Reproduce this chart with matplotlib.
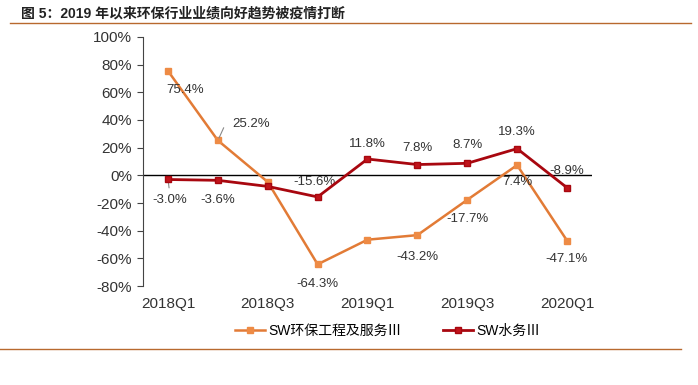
import matplotlib
matplotlib.use('Agg')
import matplotlib.pyplot as plt
from matplotlib.lines import Line2D

plt.rcParams['font.family'] = ['Liberation Sans', 'Noto Sans CJK SC', 'DejaVu Sans']

quarters = ['2018Q1', '2018Q2', '2018Q3', '2018Q4', '2019Q1', '2019Q2', '2019Q3', '2019Q4', '2020Q1']
env_service = [75.4, 25.2, -4.8, -64.3, -46.5, -43.2, -17.7, 7.4, -47.1]
water = [-3.0, -3.6, -8.0, -15.6, 11.8, 7.8, 8.7, 19.3, -8.9]
env_name = 'SW环保工程及服务Ⅲ'
water_name = 'SW水务Ⅲ'
title = '图 5：2019 年以来环保行业业绩向好趋势被疫情打断'

# which points get a label, and offsets (points) for each label
env_labels = {0: (12, -14), 1: (24, 12), 3: (0, -14), 5: (0, -16), 6: (0, -14), 7: (0, -12), 8: (0, -13)}
water_labels = {0: (1, -15), 1: (0, -14), 3: (-2, 11), 4: (0, 11), 5: (0, 12), 6: (0, 13), 7: (0, 12), 8: (0, 12)}

orange = '#E27B36'
orange_m = '#EE8B45'
red = '#A8070F'
red_m = '#C0141B'
txt = '#333333'

fig = plt.figure(figsize=(6.98, 3.85), dpi=100)
ax = fig.add_axes([0.205, 0.257, 0.643, 0.647])

x = list(range(len(quarters)))
ax.plot(x, env_service, color=orange, lw=1.8, marker='s', ms=5, mfc=orange_m, mec=orange_m, zorder=3)
ax.plot(x, water, color=red, lw=2.0, marker='s', ms=5, mfc=red_m, mec=red, zorder=4)
ax.axhline(0, color='black', lw=1.0, zorder=2)

for i, (dx, dy) in env_labels.items():
    v = env_service[i]
    ax.annotate('%.1f%%' % v, (i, v), xytext=(dx, dy), textcoords='offset points',
                ha='center', va='center', fontsize=9.5, color=txt)
for i, (dx, dy) in water_labels.items():
    v = water[i]
    ax.annotate('%.1f%%' % v, (i, v), xytext=(dx, dy), textcoords='offset points',
                ha='center', va='center', fontsize=9.5, color=txt)

# leader lines for 25.2% and -3.0%
ax.annotate('', (1, env_service[1]), xytext=(5, 11), textcoords='offset points',
            arrowprops=dict(arrowstyle='-', color='#888888', lw=0.8))
ax.annotate('', (0, water[0]), xytext=(1, -8), textcoords='offset points',
            arrowprops=dict(arrowstyle='-', color='#888888', lw=0.8))

ax.set_xlim(-0.5, 8.5)
ax.set_ylim(-80, 100)
ax.set_yticks(range(-80, 101, 20))
ax.set_yticklabels(['%d%%' % v for v in range(-80, 101, 20)])
ax.set_xticks(x[::2])
ax.set_xticklabels(quarters[::2])
ax.tick_params(axis='y', labelsize=11, colors=txt, length=4, width=0.8, direction='out', pad=4)
ax.tick_params(axis='x', labelsize=11, colors=txt, length=0, pad=8)
for s in ['top', 'right', 'bottom']:
    ax.spines[s].set_visible(False)
ax.spines['left'].set_color('#444444')
ax.spines['left'].set_linewidth(0.8)
ax.yaxis.set_tick_params(color='#444444')

handles = [Line2D([], [], color=orange, lw=1.8, marker='s', ms=5, mfc=orange_m, mec=orange_m),
           Line2D([], [], color=red, lw=2.0, marker='s', ms=5, mfc=red_m, mec=red)]
fig.legend(handles, [env_name, water_name], loc='center', bbox_to_anchor=(0.555, 0.14), ncol=2,
           frameon=False, fontsize=10, handlelength=2.2, handletextpad=0.2, columnspacing=3)

fig.text(0.03, 0.965, title, fontsize=10, fontweight='bold', color='#222222', va='center')
fig.add_artist(Line2D([0.015, 0.99], [0.94, 0.94], color='#B8692E', lw=1.0))
fig.add_artist(Line2D([0.0, 0.975], [0.093, 0.093], color='#B8692E', lw=1.0))

fig.savefig('out.png', dpi=100)
